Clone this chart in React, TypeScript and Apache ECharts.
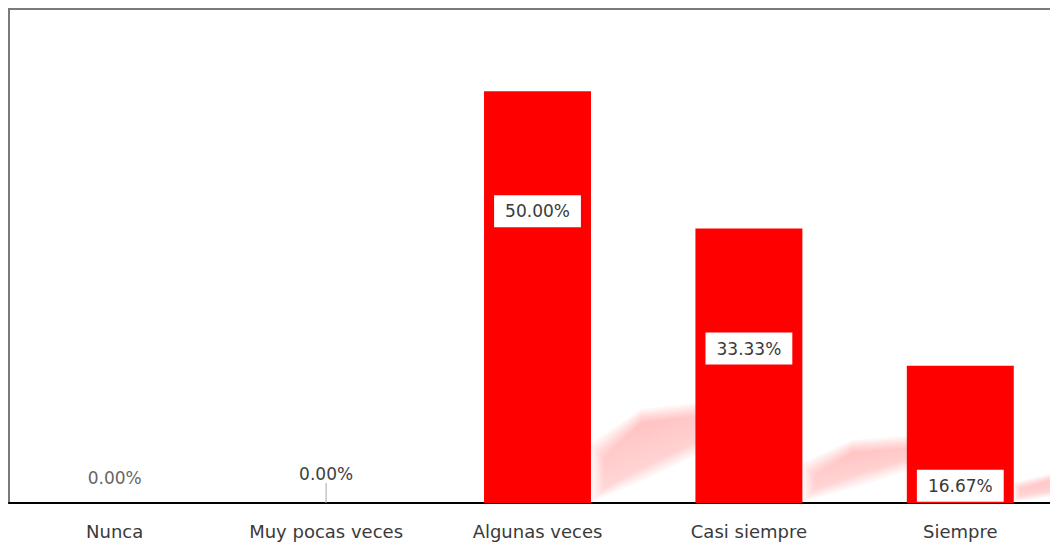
import React, { useEffect, useRef } from "react";
import * as echarts from "echarts";

const categories = ["Nunca", "Muy pocas veces", "Algunas veces", "Casi siempre", "Siempre"];
const values = [0, 0, 50, 33.33, 16.67];
const yMax = 60;

const BAR_RATIO = 0.506;
// shadow outline: [dx in px from bar right edge, height as fraction of bar height]
const SHADOW_TOP = [
  [0, 0.14],
  [50, 0.225],
  [106, 0.24],
];
const SHADOW_BOTTOM = [
  [106, 0.115],
  [50, 0.05],
  [0, 0],
];
const LAYERS = 6;

export default function App() {
  const ref = useRef<HTMLDivElement>(null);
  useEffect(() => {
    if (!ref.current) return;
    const chart = echarts.init(ref.current, undefined, { renderer: "svg" });
    const font = "'DejaVu Sans', sans-serif";
    chart.setOption({
      animation: false,
      grid: {
        left: 1,
        top: 1,
        right: 0,
        bottom: 44,
        show: true,
        borderColor: "#7a7a7a",
        borderWidth: 2,
        backgroundColor: "transparent",
      },
      xAxis: {
        type: "category",
        data: categories,
        axisTick: { show: false },
        axisLine: { lineStyle: { color: "#000", width: 2 } },
        axisLabel: { fontSize: 18, color: "#3a3a3a", fontFamily: font, margin: 19 },
      },
      yAxis: {
        type: "value",
        min: 0,
        max: yMax,
        show: false,
        splitLine: { show: false },
      },
      series: [
        {
          type: "custom",
          z: 1,
          silent: true,
          data: values.map((v, i) => [i, v]),
          encode: { x: 0, y: 1 },
          renderItem: (params: any, api: any) => {
            const idx = api.value(0);
            const v = api.value(1);
            if (!(v > 0)) return null;
            const base = api.coord([idx, 0]);
            const top = api.coord([idx, v]);
            const w = api.size([1, 0])[0] * BAR_RATIO;
            const xr = base[0] + w / 2;
            const H = base[1] - top[1];
            const yb = base[1] - 1;
            const band = H * 0.1;
            const step = Math.min(2.5, band / 12);
            const children: any[] = [];
            for (let k = 0; k < LAYERS; k++) {
              const e = k * step;
              const pts = [
                ...SHADOW_TOP.map(([dx, f]) => [xr + dx + (dx === 0 ? e : 0), yb - f * H + e]),
                ...SHADOW_BOTTOM.map(([dx, f]) => [xr + dx + (dx === 0 ? e : 0), yb - f * H - e]),
              ];
              children.push({
                type: "polygon",
                shape: { points: pts },
                style: {
                  fill: {
                    type: "linear",
                    x: 0,
                    y: 0,
                    x2: 0.4,
                    y2: 1,
                    colorStops: [
                      { offset: 0, color: "rgba(255,60,60,0.07)" },
                      { offset: 1, color: "rgba(255,60,60,0.03)" },
                    ],
                  },
                },
              });
            }
            return { type: "group", children };
          },
        },
        {
          type: "bar",
          z: 3,
          barWidth: (BAR_RATIO * 100).toFixed(1) + "%",
          itemStyle: { color: "#ff0000" },
          label: {
            show: true,
            position: ["50%", 120],
            align: "center",
            verticalAlign: "middle",
            formatter: (p: any) => p.value.toFixed(2) + "%",
            fontSize: 17,
            lineHeight: 18,
            fontFamily: font,
            color: "#3a3a3a",
            backgroundColor: "#ffffff",
            padding: [7, 11, 7, 11],
          },
          labelLayout: (p: any) => (p.dataIndex === 1 ? { dy: -14 } : {}),
          data: values.map((v, i) =>
            v === 0
              ? {
                  value: v,
                  label: {
                    position: "top",
                    distance: i === 1 ? 6 : 16,
                    align: "center",
                    verticalAlign: "bottom",
                    backgroundColor: "transparent",
                    padding: 0,
                    color: i === 1 ? "#404040" : "#666666",
                  },
                  labelLine: {
                    show: i === 1,
                    lineStyle: { color: "#a6a6a6", width: 1 },
                  },
                }
              : { value: v }
          ),
        },
      ],
    });
    return () => chart.dispose();
  }, []);
  return (
    <div style={{ width: 1050, height: 539, overflow: "hidden" }}>
      <div ref={ref} style={{ width: 1058, height: 539 }} />
    </div>
  );
}
